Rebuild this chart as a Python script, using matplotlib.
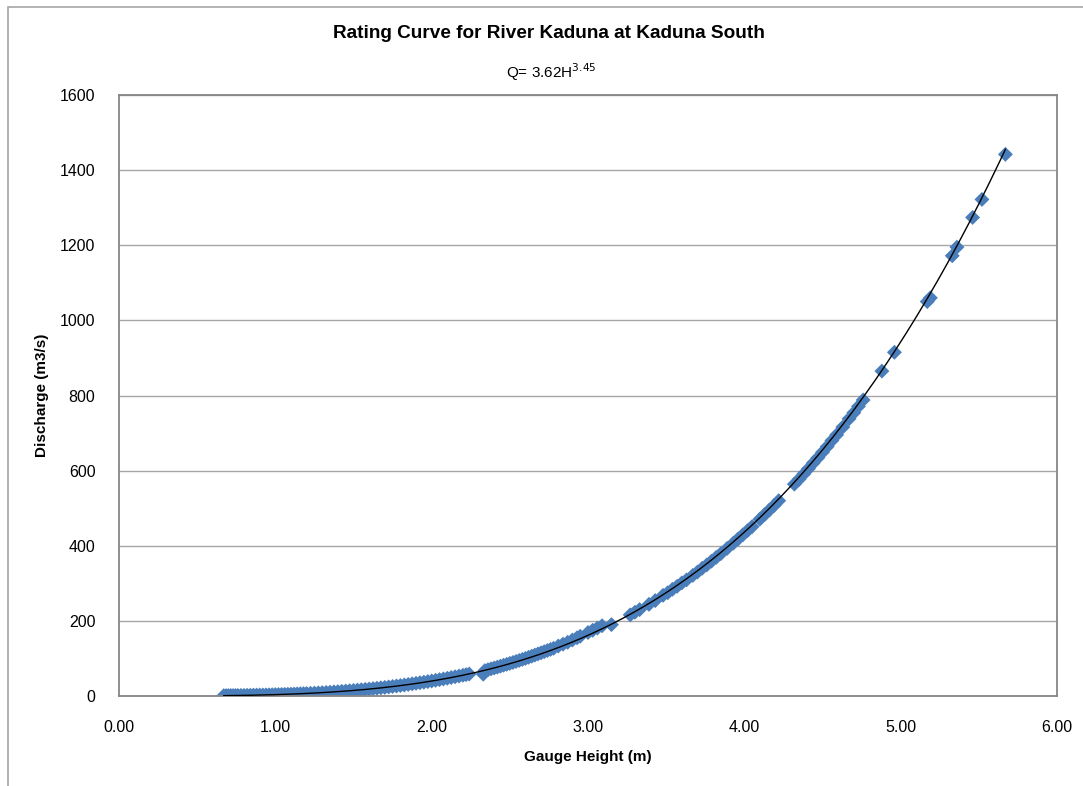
import numpy as np
import matplotlib
matplotlib.use("Agg")
import matplotlib.pyplot as plt
from matplotlib.patches import Rectangle

# gauge height (m) and discharge (m3/s)
gauge_h = [0.67, 0.685, 0.70, 0.715, 0.73, 0.745, 0.76, 0.78, 0.80, 0.82,
           0.84, 0.86, 0.88, 0.90, 0.92, 0.94, 0.96, 0.98, 1.00, 1.02,
           1.04, 1.06, 1.08, 1.10, 1.12, 1.14, 1.16, 1.18, 1.20, 1.225,
           1.25, 1.275, 1.30, 1.325, 1.35, 1.375, 1.40, 1.425, 1.45, 1.475,
           1.50, 1.525, 1.55, 1.575, 1.60, 1.625, 1.65, 1.675, 1.70, 1.725,
           1.75, 1.775, 1.80, 1.825, 1.85, 1.875, 1.90, 1.925, 1.95, 1.975,
           2.00, 2.025, 2.05, 2.075, 2.10, 2.125, 2.15, 2.175, 2.20, 2.22,
           2.24, 2.33, 2.34, 2.36, 2.38, 2.40, 2.42, 2.44, 2.46, 2.48,
           2.50, 2.52, 2.54, 2.56, 2.58, 2.60, 2.62, 2.64, 2.66, 2.68,
           2.70, 2.72, 2.74, 2.76, 2.78, 2.81, 2.84, 2.87, 2.90, 2.93,
           2.95, 3.00, 3.03, 3.06, 3.09, 3.15,
           3.27, 3.30, 3.33, 3.39, 3.43, 3.48, 3.51, 3.54, 3.57, 3.60,
           3.63, 3.67, 3.70, 3.73, 3.76, 3.79, 3.82, 3.85, 3.89, 3.93,
           3.96, 3.99, 4.02, 4.05, 4.10, 4.13, 4.16, 4.19, 4.22, 4.32,
           4.35, 4.38, 4.41, 4.44, 4.47, 4.50, 4.53, 4.56, 4.59, 4.63,
           4.67, 4.70, 4.73, 4.76, 4.88, 4.96, 5.17, 5.19, 5.33, 5.36,
           5.46, 5.52, 5.67]
discharge = [0.9, 1.0, 1.1, 1.15, 1.2, 1.3, 1.4, 1.55, 1.7, 1.85,
             2.0, 2.2, 2.4, 2.55, 2.7, 2.9, 3.1, 3.35, 3.6, 3.85,
             4.1, 4.35, 4.6, 4.9, 5.2, 5.6, 6.0, 6.3, 6.6, 7.15,
             7.7, 8.3, 8.9, 9.55, 10.2, 10.9, 11.6, 12.4, 13.2, 14.0,
             14.8, 15.7, 16.6, 17.6, 18.6, 19.6, 20.7, 21.8, 22.9, 24.1,
             25.4, 26.6, 27.9, 29.3, 30.8, 32.3, 33.8, 35.3, 36.8, 38.4,
             40.0, 41.8, 43.6, 45.4, 47.3, 49.2, 51.2, 53.2, 55.2, 56.9,
             58.5, 58.0, 67.5, 70.0, 72.4, 74.6, 76.9, 79.4, 81.9, 84.3,
             86.8, 89.4, 92.0, 94.7, 97.4, 100, 103, 106, 109, 112,
             115, 118, 121, 124, 127, 133, 138, 143, 149, 155,
             159, 169, 175, 181, 187, 190,
             216, 223, 230, 244, 254, 268, 275, 284, 292, 301,
             309, 321, 330, 340, 349, 359, 369, 379, 393, 407,
             418, 429, 440, 451, 471, 483, 495, 507, 520, 564,
             577, 591, 605, 620, 634, 649, 664, 680, 695, 716,
             738, 754, 771, 788, 865, 915, 1050, 1060, 1172, 1195,
             1274, 1322, 1442]

x_ticks = [0, 1, 2, 3, 4, 5, 6]
y_ticks = [0, 200, 400, 600, 800, 1000, 1200, 1400, 1600]

plt.rcParams['font.family'] = ['Liberation Sans', 'DejaVu Sans']

fig = plt.figure(figsize=(10.83, 7.86), dpi=100)
ax = fig.add_axes([119 / 1083, 1 - 696 / 786, (1057 - 119) / 1083, (696 - 95) / 786])

# outer chart border (partly cut off on right and bottom)
fig.patches.append(Rectangle((8 / 1083, -0.1), 1.2, 1 - 7 / 786 + 0.1,
                             transform=fig.transFigure, fill=False,
                             edgecolor="#a6a6a6", lw=1.2))

# power trendline fitted in log space, like the spreadsheet does
b, log_a = np.polyfit(np.log(gauge_h), np.log(discharge), 1)
hh = np.linspace(min(gauge_h), max(gauge_h), 300)

ax.scatter(gauge_h, discharge, marker="D", s=58, color="#4a7ebb",
           edgecolors="none", zorder=2)
ax.plot(hh, np.exp(log_a) * hh ** b, color="black", lw=1, zorder=3)

ax.set_xlim(0, 6)
ax.set_ylim(0, 1600)
ax.set_xticks(x_ticks)
ax.set_xticklabels(["{:.2f}".format(v) for v in x_ticks])
ax.set_yticks(y_ticks)
ax.tick_params(axis="y", length=0, labelsize=11.5, pad=17)
ax.tick_params(axis="x", length=0, labelsize=11.5, pad=17)
ax.grid(axis="y", color="#a6a6a6", lw=1)
ax.set_axisbelow(True)
for s in ax.spines.values():
    s.set_color("#868686")
    s.set_linewidth(1.3)

ax.set_xlabel("Gauge Height (m)", fontsize=11, fontweight="bold", labelpad=11)
ax.set_ylabel("Discharge (m3/s)", fontsize=11, fontweight="bold", labelpad=8)

fig.text(549 / 1083, 1 - 34 / 786, "Rating Curve for River Kaduna at Kaduna South",
         ha="center", va="center", fontsize=13.7, fontweight="bold")
fig.text(551 / 1083, 1 - 72 / 786, r"Q= 3.62H$^{3.45}$",
         ha="center", va="center", fontsize=11)

fig.savefig("out.png", dpi=100)
